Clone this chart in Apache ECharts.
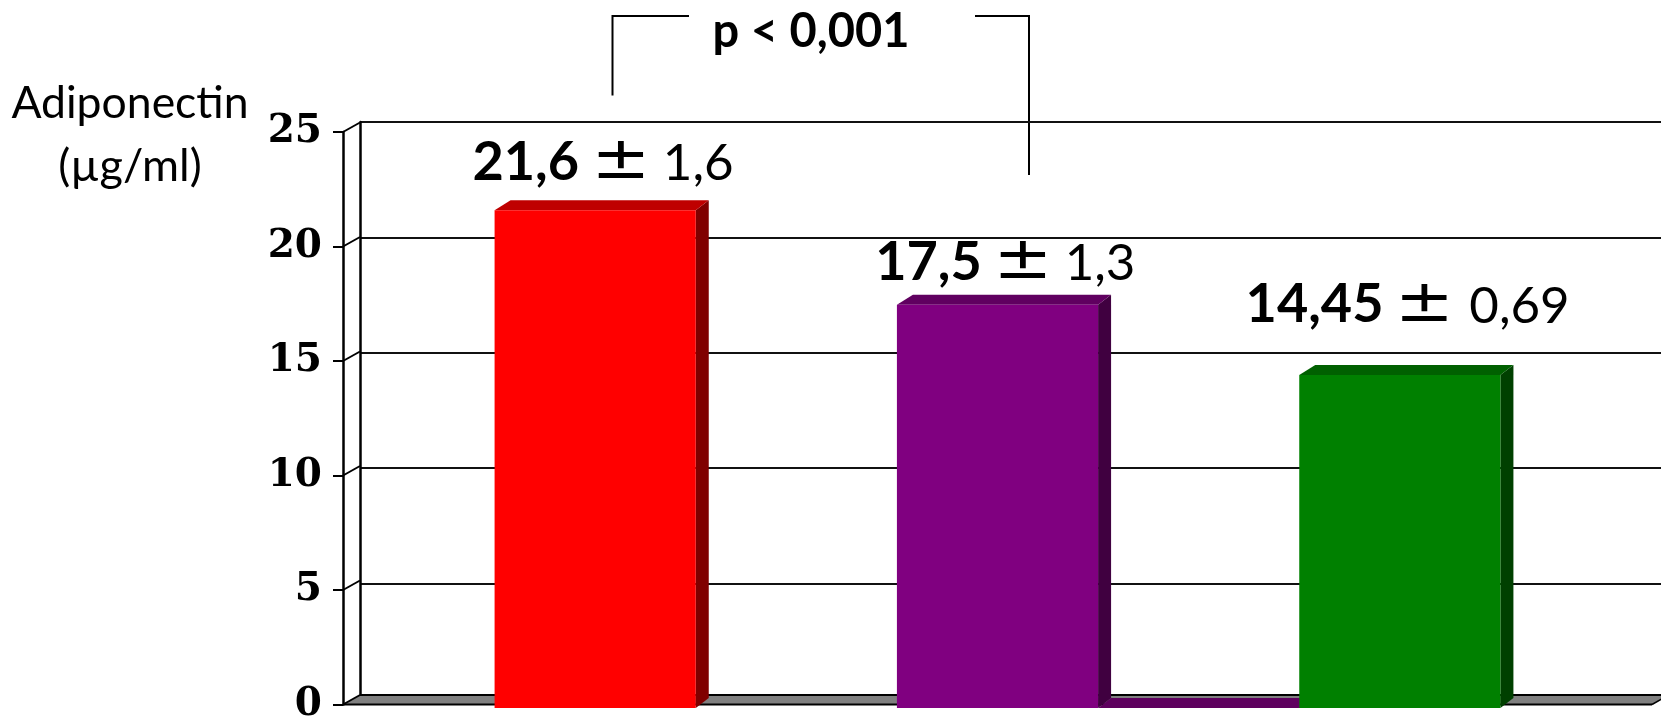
<!DOCTYPE html>
<html>
<head>
<meta charset="utf-8">
<script src="https://cdn.jsdelivr.net/npm/echarts@6/dist/echarts.min.js"></script>
<style>
html,body{margin:0;padding:0;background:#fff;}
#chart{width:1661px;height:724px;}
</style>
</head>
<body>
<div id="chart"></div>
<script>
// ---- data ----
const categories = ['Group 1', 'Group 2', 'Group 3'];
const means = [21.6, 17.5, 14.45];
const sds = [1.6, 1.3, 0.69];
const yTicks = [0, 5, 10, 15, 20, 25];
const yAxisTitle = ['Adiponectin', '(µg/ml)'];
const pText = 'p < 0,001';

// ---- style ----
const faceColors = ['#FF0000', '#800080', '#008000'];
const sideColors = ['#800000', '#400040', '#004000'];
const topColors  = ['#BF0000', '#600060', '#006000'];
const floorTint  = [null, '#5E005E', null];
const labelLift  = [27.5, 22, 49.5];   // baseline distance above bar top
const WDX = 17, WDY = -9.5;            // wall depth
const BDXR = 13, BDXL = 16, BDY = -10; // bar depth
const LATO = 'Lato, "Open Sans", sans-serif';
const FONT_B = 'bold 54px Lato, "Open Sans", sans-serif';
const FONT_S = '58px "DejaVu Sans", sans-serif';
const FONT_R = '51px Lato, "Open Sans", sans-serif';
const PM_SCALE = 1.22;
const GAPS = [21, 23];

const fmt = v => String(v).replace('.', ',');

const mctx = document.createElement('canvas').getContext('2d');
function measure(font, text) {
  mctx.font = font;
  mctx.textBaseline = 'alphabetic';
  const m = mctx.measureText(text);
  const size = parseFloat(font.match(/(\d+(\.\d+)?)px/)[1]);
  const asc = (m.fontBoundingBoxAscent != null) ? m.fontBoundingBoxAscent : 0.9 * size;
  const desc = (m.fontBoundingBoxDescent != null) ? m.fontBoundingBoxDescent : 0.22 * size;
  const L = (m.actualBoundingBoxLeft != null) ? m.actualBoundingBoxLeft : 0;
  const R = (m.actualBoundingBoxRight != null) ? m.actualBoundingBoxRight : m.width;
  return {L: L, R: R, mid: (asc - desc) / 2};
}

function buildLabel(cx, baseY, parts) {
  const ms = parts.map(p => measure(p.font, p.text));
  const inkW = ms.map((m, k) => (m.L + m.R) * (parts[k].scale || 1));
  let total = inkW.reduce((a, b) => a + b, 0) + GAPS[0] + GAPS[1];
  let inkLeft = cx - total / 2;
  const els = [];
  parts.forEach((p, k) => {
    const s = p.scale || 1;
    const x = inkLeft + ms[k].L * s;
    els.push({
      type: 'text', x: x, y: baseY - ms[k].mid, scaleX: s, scaleY: 1,
      style: {text: p.text, font: p.font, fill: '#000', align: 'left', verticalAlign: 'middle'}
    });
    inkLeft += inkW[k] + (k < GAPS.length ? GAPS[k] : 0);
  });
  return els;
}

const chart = echarts.init(document.getElementById('chart'), null, {renderer: 'canvas'});

const option = {
  animation: false,
  backgroundColor: '#ffffff',
  grid: [
    {left: 343, right: 9, top: 132, bottom: 16},     // front plane
    {left: 360, right: 0, top: 122, bottom: 25},     // back wall
    {left: 394, right: 60, top: 132, bottom: 16}     // bars
  ],
  xAxis: [
    {gridIndex: 0, type: 'value', min: 0, max: 1, show: false},
    {gridIndex: 1, type: 'value', min: 0, max: 1, show: false},
    {gridIndex: 2, type: 'category', data: categories, show: false}
  ],
  yAxis: [
    {
      gridIndex: 0, type: 'value', min: 0, max: 25, interval: 5, z: 5,
      axisLine: {show: true, lineStyle: {color: '#000', width: 2.5}},
      axisTick: {show: true, length: 10, lineStyle: {color: '#000', width: 2}},
      axisLabel: {
        show: true, margin: 21, color: '#000',
        fontFamily: '"DejaVu Serif", serif', fontWeight: 'bold', fontSize: 39
      },
      splitLine: {show: false}
    },
    {
      gridIndex: 1, type: 'value', min: 0, max: 25, interval: 5,
      axisLine: {show: true, lineStyle: {color: '#000', width: 2.5}},
      axisTick: {show: false},
      axisLabel: {show: false},
      splitLine: {show: true, lineStyle: {color: '#111', width: 1.8}}
    },
    {gridIndex: 2, type: 'value', min: 0, max: 25, show: false}
  ],
  series: [
    {
      // floor of the 3D plot
      type: 'custom', xAxisIndex: 0, yAxisIndex: 0, z: 1, silent: true,
      data: [[0, 0]],
      renderItem: function (params, api) {
        const p0 = api.coord([0, 0]);
        const p1 = api.coord([1, 0]);
        return {
          type: 'group',
          children: [
            {type: 'polygon', shape: {points: [p0, p1, [p1[0] + WDX, p1[1] + WDY], [p0[0] + WDX, p0[1] + WDY]]},
             style: {fill: '#808080'}},
            {type: 'line', shape: {x1: p0[0] + WDX, y1: p0[1] + WDY, x2: p1[0] + WDX, y2: p1[1] + WDY},
             style: {stroke: '#000', lineWidth: 2}},
            {type: 'line', shape: {x1: p0[0], y1: p0[1], x2: p1[0], y2: p1[1]},
             style: {stroke: '#000', lineWidth: 2}},
            {type: 'line', shape: {x1: p1[0], y1: p1[1], x2: p1[0] + WDX, y2: p1[1] + WDY},
             style: {stroke: '#000', lineWidth: 1.5}}
          ]
        };
      }
    },
    {
      // diagonal connectors front ticks -> back wall gridlines
      type: 'custom', xAxisIndex: 0, yAxisIndex: 0, z: 3, silent: true,
      data: yTicks.map(v => [0, v]),
      renderItem: function (params, api) {
        const p = api.coord([0, api.value(1)]);
        return {type: 'line', shape: {x1: p[0], y1: p[1], x2: p[0] + WDX, y2: p[1] + WDY},
                style: {stroke: '#000', lineWidth: 2}};
      }
    },
    {
      // 3D bars
      type: 'custom', xAxisIndex: 2, yAxisIndex: 2, z: 4,
      data: means.map((m, i) => [i, m, sds[i]]),
      renderItem: function (params, api) {
        const i = api.value(0);
        const v = api.value(1);
        const sd = api.value(2);
        const top = api.coord([i, v]);
        const base = api.coord([i, 0]);
        const band = api.size([1, 0])[0];
        const bw = band * 0.5;
        const x0 = top[0] - bw / 2, x1 = top[0] + bw / 2;
        const children = [];
        if (floorTint[i]) {
          const nx0 = api.coord([i + 1, 0])[0] - bw / 2;
          children.push({type: 'polygon', shape: {points: [
            [x1, base[1]], [nx0 + 2, base[1]], [nx0 + 2, base[1] + BDY], [x1 + BDXR, base[1] + BDY]]},
            style: {fill: floorTint[i]}});
        }
        children.push(
          {type: 'polygon', shape: {points: [[x1, top[1]], [x1 + BDXR, top[1] + BDY], [x1 + BDXR, base[1] + BDY], [x1, base[1]]]},
           style: {fill: sideColors[i]}},
          {type: 'polygon', shape: {points: [[x0, top[1]], [x1, top[1]], [x1 + BDXR, top[1] + BDY], [x0 + BDXL, top[1] + BDY]]},
           style: {fill: topColors[i]}},
          {type: 'rect', shape: {x: x0, y: top[1], width: bw, height: base[1] - top[1]},
           style: {fill: faceColors[i]}}
        );
        const labelEls = buildLabel(top[0] + 8, top[1] - labelLift[i], [
          {text: fmt(v), font: FONT_B},
          {text: '±', font: FONT_S, scale: PM_SCALE},
          {text: fmt(sd), font: FONT_R}
        ]);
        labelEls.forEach(e => children.push(e));
        return {type: 'group', children: children};
      }
    }
  ],
  graphic: [
    {type: 'text', x: 130, y: 104, style: {text: yAxisTitle[0], font: '44.5px ' + LATO, fill: '#000', align: 'center', verticalAlign: 'middle'}},
    {type: 'text', x: 130, y: 166, style: {text: yAxisTitle[1], font: '45px ' + LATO, fill: '#000', align: 'center', verticalAlign: 'middle'}},
    {type: 'text', x: 811, y: 32, style: {text: pText, font: 'bold 47px ' + LATO, fill: '#000', align: 'center', verticalAlign: 'middle'}},
    {type: 'polyline', shape: {points: [[612.5, 95.5], [612.5, 16], [689, 16]]}, style: {stroke: '#000', lineWidth: 2, fill: null}},
    {type: 'polyline', shape: {points: [[975, 16], [1029, 16], [1029, 175]]}, style: {stroke: '#000', lineWidth: 2, fill: null}}
  ]
};

chart.setOption(option);
</script>
</body>
</html>
